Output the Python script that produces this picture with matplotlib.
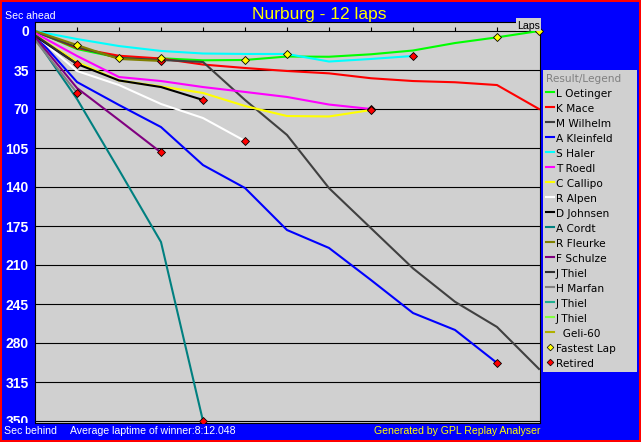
import matplotlib
matplotlib.use("Agg")
import matplotlib.pyplot as plt
from matplotlib.patches import Rectangle
from matplotlib.lines import Line2D

# ---------------- data ----------------
title = "Nurburg - 12 laps"
n_laps = 12
y_ticks = [0, 35, 70, 105, 140, 175, 210, 245, 280, 315, 350]

drivers = ["L Oetinger", "K Mace", "M Wilhelm", "A Kleinfeld", "S Haler",
           "T Roedl", "C Callipo", "R Alpen", "D Johnsen", "A Cordt",
           "R Fleurke", "F Schulze", "J Thiel", "H Marfan", "J Thiel",
           "J Thiel", "  Geli-60"]
colors = ["#00FF00", "#FF0000", "#404040", "#0000FF", "#00FFFF",
          "#FF00FF", "#FFFF00", "#FFFFFF", "#000000", "#008080",
          "#808000", "#800080", "#303030", "#808080", "#20B090",
          "#80FF40", "#B0B000"]

# seconds behind (per lap, starting at lap 0)
oetinger = [0, 16.2, 24.0, 24.5, 26.3, 26.0, 22.9, 23.1, 20.9, 17.5, 10.8, 5.7, 0]
mace = [0, 15.3, 22.2, 24.7, 30.1, 33.2, 35.9, 38.0, 42.4, 44.9, 46.0, 48.5, 70.0]
wilhelm = [0.9, 14.4, 24.2, 26.0, 27.8, 61.9, 93.3, 141.0, 177.0, 213.0, 243.0, 265.6, 303.3]
kleinfeld = [3.6, 45.8, 66.4, 86.2, 120.3, 140.9, 178.6, 194.7, 223.5, 253.1, 268.3, 297.9]
haler = [0, 7.2, 13.5, 17.9, 20.2, 20.6, 20.6, 27.4, 25.1, 22.4]
roedl = [1.8, 22.4, 41.3, 44.9, 50.3, 54.7, 59.2, 66.0, 70.0]
callipo = [3.6, 27.8, 44.4, 49.8, 55.6, 67.3, 76.3, 76.7, 70.9]
alpen = [3.6, 35.9, 48.5, 65.5, 78.1, 98.7]
johnsen = [4.5, 29.6, 44.4, 50.3, 61.9]
cordt = [6.3, 61.0, 124.7, 189.4, 350.0]
fleurke = [0, 12.6, 25.1, 26.9]
schulze = [5.4, 51.2, 79.9, 109.0]
thiel_a = [3.6, 29.6]
marfan = [8.1, 55.6]
thiel_b = []
thiel_c = []
geli = []

series = [oetinger, mace, wilhelm, kleinfeld, haler, roedl, callipo, alpen,
          johnsen, cordt, fleurke, schulze, thiel_a, marfan, thiel_b, thiel_c, geli]

# fastest laps: lap number and index of driver who set it
fl_laps = [1, 2, 3, 5, 6, 11, 12]
fl_driver = [10, 0, 0, 0, 4, 0, 0]

avg_text = "Average laptime of winner:8:12.048"

# ---------------- figure ----------------
W, H = 641, 442
BLUE = "#0000FF"
fig = plt.figure(figsize=(W / 100, H / 100), dpi=100, facecolor=BLUE)

def fx(x):
    return x / W

def fy(y):
    return 1 - y / H

BG = "#D0D0D0"
ax_l, ax_r, ax_t, ax_b = 35, 540, 22, 423
ax = fig.add_axes([fx(ax_l), fy(ax_b), (ax_r - ax_l) / W, (ax_b - ax_t) / H])
ax.set_facecolor(BG)

px_per_sec = 39 / 35.0
y0_px = 31
px_per_lap = 42.0
ax.set_xlim(0, (ax_r - ax_l) / px_per_lap)
ax.set_ylim((ax_b - y0_px) / px_per_sec, -(y0_px - ax_t) / px_per_sec)

for s in ax.spines.values():
    s.set_color("black")
    s.set_linewidth(0.8)

ax.set_yticks(y_ticks)
ax.set_yticklabels([str(v) for v in y_ticks])
ax.tick_params(axis="y", length=0, pad=4.5, labelcolor="white",
               labelsize=10)
for lbl in ax.get_yticklabels():
    lbl.set_fontfamily("Liberation Sans")
    lbl.set_fontweight("bold")
ax.set_xticks([])
ax.yaxis.grid(True, color="black", linewidth=0.8)
ax.set_axisbelow(True)

# small lap ticks on the zero line
laps_all = list(range(1, n_laps + 1))
ax.vlines(laps_all, -3.8, 0, color="black", linewidth=0.8, zorder=1)

# driver lines
for i, (vals, c) in enumerate(zip(series, colors)):
    if not vals:
        continue
    ax.plot(range(len(vals)), vals, color=c, linewidth=1.5, zorder=2 + i * 0.01,
            solid_joinstyle="miter")

# retired markers
for vals in series:
    if vals and len(vals) - 1 < n_laps:
        ax.plot(len(vals) - 1, vals[-1], marker="D", markersize=4.2,
                markerfacecolor="#FF0000", markeredgecolor="black",
                markeredgewidth=0.6, linestyle="none", zorder=5, clip_on=True)

# fastest lap markers
for lap, d in zip(fl_laps, fl_driver):
    ax.plot(lap, series[d][lap], marker="D", markersize=4.2,
            markerfacecolor="#FFFF00", markeredgecolor="black",
            markeredgewidth=0.6, linestyle="none", zorder=6, clip_on=False)

# blue strip under the plot (cuts the lowest tick label like the original)
fig.add_artist(Rectangle((0, 0), fx(ax_l) - 0.0005, fy(ax_b) - 0.001,
                         transform=fig.transFigure, facecolor=BLUE,
                         edgecolor="none", zorder=1))

# ---------------- texts ----------------
fig.text(fx(319), fy(19.5), title, color="#FFFF00", fontsize=12.5,
         family="Liberation Sans", ha="center", va="baseline")
fig.text(fx(5), fy(19.3), "Sec ahead", color="white", fontsize=7.6,
         family="Liberation Sans", ha="left", va="baseline")
fig.text(fx(4), fy(434), "Sec behind", color="white", fontsize=7.6,
         family="Liberation Sans", ha="left", va="baseline")
fig.text(fx(70), fy(434), avg_text, color="white", fontsize=7.6,
         family="Liberation Sans", ha="left", va="baseline")
fig.text(fx(540.5), fy(434), "Generated by GPL Replay Analyser", color="#FFFF00",
         fontsize=7.6, family="Liberation Sans", ha="right", va="baseline")

# "Laps" box
fig.add_artist(Rectangle((fx(516), fy(31)), 25 / W, 13 / H, transform=fig.transFigure,
                         facecolor=BG, edgecolor="none", zorder=3))
fig.text(fx(517.5), fy(29), "Laps", color="black", fontsize=7.6,
         family="Liberation Sans", ha="left", va="baseline", zorder=4)

# ---------------- legend ----------------
lg_l, lg_r, lg_t, lg_b = 543, 637, 70, 372
fig.add_artist(Rectangle((fx(lg_l), fy(lg_b)), (lg_r - lg_l) / W, (lg_b - lg_t) / H,
                         transform=fig.transFigure, facecolor=BG, edgecolor="none"))
fig.text(fx(546), fy(81.7), "Result/Legend", color="#808080", fontsize=7.6,
         family="DejaVu Sans", ha="left", va="baseline")
row0 = 96.7
step = 15.0
for i, (name, c) in enumerate(zip(drivers, colors)):
    base = row0 + i * step
    fig.add_artist(Line2D([fx(545.5), fx(554)], [fy(base - 4.3), fy(base - 4.3)],
                          transform=fig.transFigure, color=c, linewidth=1.5))
    fig.text(fx(556), fy(base), name, color="black", fontsize=7.6,
             family="DejaVu Sans", ha="left", va="baseline")
extra = [("Fastest Lap", "#FFFF00"), ("Retired", "#FF0000")]
for j, (name, c) in enumerate(extra):
    base = row0 + (len(drivers) + j) * step
    fig.add_artist(Line2D([fx(549.5)], [fy(base - 4.3)], transform=fig.transFigure,
                          marker="D", markersize=3.4, markerfacecolor=c,
                          markeredgecolor="black", markeredgewidth=0.5, linestyle="none"))
    fig.text(fx(556), fy(base), name, color="black", fontsize=7.6,
             family="DejaVu Sans", ha="left", va="baseline")

# red border
fig.add_artist(Rectangle((0, 0), 1, 1, transform=fig.transFigure, fill=False,
                         edgecolor="#FF0000", linewidth=2.9, zorder=10))

fig.savefig("out.png", dpi=100, facecolor=fig.get_facecolor())
